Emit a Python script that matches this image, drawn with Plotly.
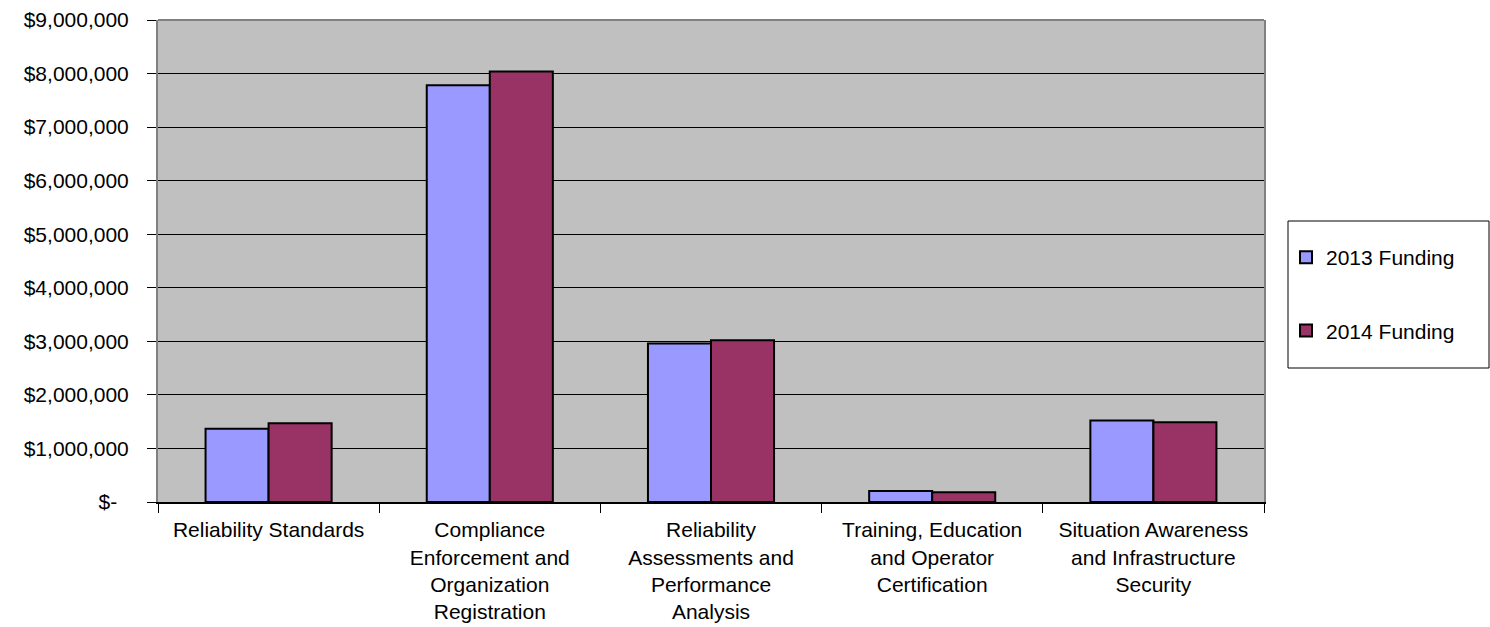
import plotly.graph_objects as go

categories = [
    "Reliability Standards",
    "Compliance<br>Enforcement and<br>Organization<br>Registration",
    "Reliability<br>Assessments and<br>Performance<br>Analysis",
    "Training, Education<br>and Operator<br>Certification",
    "Situation Awareness<br>and Infrastructure<br>Security",
]
funding_2013 = [1370000, 7780000, 2960000, 205000, 1520000]
funding_2014 = [1470000, 8040000, 3020000, 180000, 1490000]
tick_values = [0, 1000000, 2000000, 3000000, 4000000, 5000000, 6000000, 7000000, 8000000, 9000000]
tick_labels = ["$-\u00a0\u00a0", "$1,000,000", "$2,000,000", "$3,000,000", "$4,000,000",
               "$5,000,000", "$6,000,000", "$7,000,000", "$8,000,000", "$9,000,000"]

FONT = "Liberation Sans, Arial, sans-serif"

fig = go.Figure()
fig.add_trace(go.Bar(name="2013 Funding", x=categories, y=funding_2013,
                     marker=dict(color="#9999FF", line=dict(color="black", width=2)),
                     legendgroup="a"))
fig.add_trace(go.Bar(name="2014 Funding", x=categories, y=funding_2014,
                     marker=dict(color="#993366", line=dict(color="black", width=2)),
                     legendgroup="b"))

W, H = 1490, 627
L, R, T, B = 158, 226, 20, 125
pw = W - L - R
ph = H - T - B

def px_x(p):
    return (p - L) / pw

def px_y(p):
    return (H - B - p) / ph

fig.update_layout(
    width=W, height=H,
    margin=dict(l=L, r=R, t=T, b=B, pad=0, autoexpand=False),
    paper_bgcolor="white",
    plot_bgcolor="#C0C0C0",
    barmode="group",
    bargap=0.43,
    bargroupgap=0,
    font=dict(family=FONT, size=21, color="black"),
    legend=dict(
        x=px_x(1286), y=px_y(237), xanchor="left", yanchor="top",
        bgcolor="rgba(0,0,0,0)", borderwidth=0,
        tracegroupgap=43, traceorder="grouped",
        font=dict(family=FONT, size=21, color="black"),
        itemwidth=30,
    ),
    showlegend=True,
    shapes=[
        dict(type="rect", xref="paper", yref="paper",
             x0=px_x(1288), x1=px_x(1489), y0=px_y(368), y1=px_y(221),
             line=dict(color="black", width=1), fillcolor="white", layer="below"),
        dict(type="line", xref="paper", yref="paper",
             x0=0, x1=1, y0=1, y1=1,
             line=dict(color="#808080", width=2), layer="above"),
    ],
)

fig.update_xaxes(
    automargin=False,
    showgrid=False,
    showline=True, linecolor="black", linewidth=2,
    ticks="outside", tickson="boundaries", ticklen=9, tickcolor="black", tickwidth=1,
    tickfont=dict(family=FONT, size=21, color="black"),
    ticklabelstandoff=8,
)
fig.update_yaxes(
    automargin=False,
    range=[0, 9000000],
    tickvals=tick_values, ticktext=tick_labels,
    showgrid=True, gridcolor="black", gridwidth=1,
    zeroline=False,
    showline=True, linecolor="#808080", linewidth=2, mirror=True,
    ticks="outside", ticklen=9, tickcolor="black", tickwidth=1,
    tickfont=dict(family=FONT, size=21, color="black"),
    ticklabelstandoff=14,
)

fig.write_html("out.html")
